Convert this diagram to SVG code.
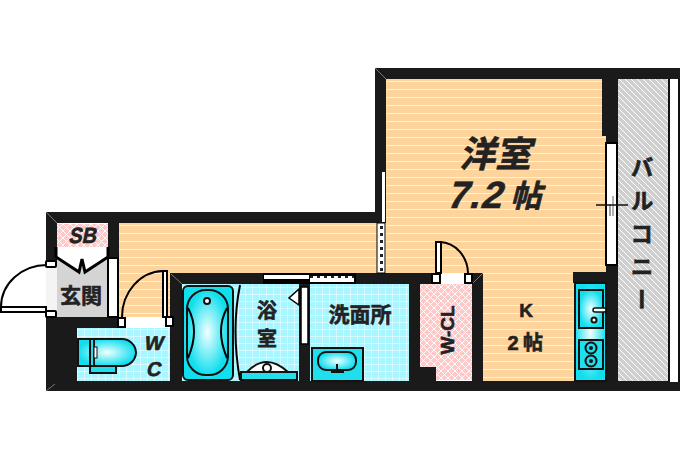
<svg xmlns="http://www.w3.org/2000/svg" width="680" height="460" viewBox="0 0 680 460">
<style>
.wall{fill:#1a1a1a}
.ln{fill:none;stroke:#000;stroke-width:2}
.lbl{fill:#222;stroke:#222;stroke-width:.6;font-family:"Noto Sans CJK JP","Liberation Sans",sans-serif;font-weight:700;text-anchor:middle}
.lat{fill:#222;stroke:#222;stroke-width:.6;font-family:"Liberation Sans","Noto Sans CJK JP",sans-serif;font-weight:700;text-anchor:middle}
.door{fill:#fff;stroke:#000;stroke-width:2}
.fx{stroke:#111;stroke-width:2}
</style>
<defs>
<pattern id="floor" width="8" height="8" patternUnits="userSpaceOnUse" y="1"><rect width="8" height="8" fill="#fdd49c"/><rect y="0" width="8" height="1" fill="#fff2dd"/></pattern>
<pattern id="tile" width="7" height="7" patternUnits="userSpaceOnUse"><rect width="7" height="7" fill="#a8f6ff"/><path d="M0 0H7M0 0V7" stroke="#fff" stroke-width="1"/></pattern>
<pattern id="pink" width="7" height="7" patternUnits="userSpaceOnUse"><rect width="7" height="7" fill="#fdc9c9"/><path d="M0 0L7 7M7 0L0 7" stroke="#fff" stroke-width="1"/></pattern>
<pattern id="hatch" width="6" height="6" patternUnits="userSpaceOnUse"><rect width="6" height="6" fill="#cfcfcf"/><path d="M-1 -1L7 7M-1 5L1 7M5 -1L7 1" stroke="#fff" stroke-width="1"/></pattern>
<pattern id="dots" width="7" height="7" patternUnits="userSpaceOnUse"><rect width="7" height="7" fill="#fff"/><rect x="2" y="2" width="3" height="3" fill="#222"/></pattern>
<radialGradient id="cy"><stop offset="0" stop-color="#f2ffff"/><stop offset="1" stop-color="#12dfee"/></radialGradient>
</defs>

<g id="floors">
<rect x="386" y="79" width="220" height="204" fill="url(#floor)"/>
<rect x="483" y="270" width="95" height="113" fill="url(#floor)"/>
<rect x="119" y="223" width="260" height="52" fill="url(#floor)"/>
<rect x="118" y="258" width="52" height="60" fill="url(#floor)"/>
<rect x="618" y="79" width="50" height="303" fill="url(#hatch)"/>
<rect x="77" y="328" width="93" height="53" fill="url(#tile)"/>
<rect x="182" y="284" width="117" height="97" fill="url(#tile)"/>
<rect x="310" y="284" width="99" height="97" fill="url(#tile)"/>
<rect x="420" y="284" width="52" height="96" fill="url(#pink)"/>
<rect x="57" y="224" width="51" height="23" fill="url(#pink)"/>
<rect x="57" y="247" width="51" height="70" fill="#d4d4d4"/>
</g>

<g id="walls">
<rect class="wall" x="375" y="68" width="305" height="11"/>
<rect class="wall" x="375" y="68" width="11" height="155"/>
<rect class="wall" x="46" y="212" width="340" height="11"/>
<rect class="wall" x="46" y="212" width="11" height="179"/>
<rect class="wall" x="46" y="381" width="634" height="10"/>
<rect class="wall" x="46" y="317" width="74" height="11"/>
<rect class="wall" x="46" y="328" width="31" height="60"/>
<rect class="wall" x="170" y="273" width="313" height="11"/>
<rect class="wall" x="170" y="273" width="12" height="110"/>
<rect class="wall" x="299" y="273" width="11" height="110"/>
<rect class="wall" x="409" y="273" width="11" height="110"/>
<rect class="wall" x="472" y="273" width="11" height="110"/>
<rect class="wall" x="420" y="367" width="16" height="14"/>
<rect class="wall" x="108" y="223" width="11" height="36"/>
<rect class="wall" x="602" y="79" width="16" height="57"/>
<rect class="wall" x="606" y="79" width="12" height="303"/>
<rect class="wall" x="573" y="272" width="33" height="11"/>
<rect x="668" y="79" width="2" height="303" fill="#111"/>
<rect x="670" y="79" width="8" height="303" fill="#fff"/>
<rect x="678" y="79" width="2" height="303" fill="#111"/>
<path d="M375 68L386 79M46 212L57 223M46 391L55 384M171 274L182 284M483 273L472 284" stroke="#777" stroke-width="1" fill="none"/>
</g>

<g id="openings">
<rect x="46" y="263" width="11" height="49" fill="#f4f4f4"/>
<rect x="108" y="258" width="10" height="59" class="door"/>
<rect x="120" y="317" width="48" height="11" fill="#fff"/>
<rect x="441" y="273" width="25" height="11" fill="#fff"/>
<path d="M56 247H109V257L85 272L82 259L79 272L56 257Z" fill="#fff"/>
<path class="ln" d="M56 247V257L79 272L82 259L85 272L108 257V247" style="stroke-width:3"/>
<rect class="door" x="1" y="307" width="45" height="5"/>
<path class="ln" d="M1 307A46 42 0 0 1 47 265"/>
<rect class="door" x="46" y="261" width="10" height="6" rx="1"/>
<rect class="door" x="46" y="311" width="10" height="6" rx="1"/>
<rect class="door" x="163" y="271" width="4" height="46"/>
<path class="ln" d="M122 317A42 46 0 0 1 163 271"/>
<rect class="door" x="118" y="318" width="7" height="9"/>
<rect class="door" x="166" y="317" width="7" height="9"/>
<rect x="263" y="273" width="93" height="11" fill="#000"/>
<rect x="264" y="275" width="45" height="4" fill="#fff"/>
<rect x="310" y="276" width="44" height="6" fill="url(#dots)"/>
<rect x="301" y="287" width="7" height="57" class="door" style="stroke-width:1.5"/>
<path d="M299 289L289 298L299 305Z" fill="#fff" stroke="#000" stroke-width="1.5"/>
<rect x="382" y="172" width="3" height="50" fill="#fff"/>
<rect x="377" y="223" width="8" height="50" fill="url(#dots)" stroke="#000"/>
<rect class="door" x="436" y="242" width="5" height="31"/>
<path class="ln" d="M440 242A29 32 0 0 1 468 273"/>
<rect class="door" x="432" y="274" width="8" height="9"/>
<rect class="door" x="465" y="274" width="7" height="9"/>
<rect x="606" y="143" width="11" height="122" fill="#fff" stroke="#000" stroke-width="2"/>
<path d="M613 196V216" stroke="#999" stroke-width="1.5"/>
<path d="M610 204V216" stroke="#444" stroke-width="1"/>
<path d="M596 205H628" stroke="#111" stroke-width="1.5"/>
</g>

<g id="bath">
<rect x="183" y="286" width="50" height="94" rx="5" fill="url(#cy)" class="fx"/>
<rect x="187" y="290" width="41" height="85" rx="19" fill="url(#cy)" class="fx"/>
<path class="ln" d="M188 308Q200 330 188 358M227 308Q215 330 227 358"/>
<circle cx="207" cy="301" r="3" fill="#fff" stroke="#111" stroke-width="2"/>
<path class="ln" d="M240 285Q231 330 240 380"/>
<path d="M247 372Q266 352 288 372Z" fill="#fff" stroke="#111" stroke-width="2"/>
<circle cx="267" cy="368" r="4" fill="#fff" stroke="#111" stroke-width="2"/>
<rect x="241" y="372" width="56" height="8" fill="#27dde9" class="fx"/>
</g>

<g id="sink">
<rect x="312" y="348" width="51" height="33" fill="#1fdfec" stroke="#111" stroke-width="2"/>
<rect x="318" y="352" width="38" height="18" rx="8" fill="url(#cy)" class="fx"/>
<path class="fx" fill="none" d="M337 364V372M331 372H344"/>
</g>

<g id="toilet">
<rect x="90" y="366" width="26" height="7" fill="#1fdfec" class="fx"/>
<path d="M78 339H122A14 14 0 0 1 136 353A14 14 0 0 1 122 366H78Z" fill="url(#cy)" class="fx"/>
<rect x="90" y="339" width="4" height="27" fill="#1fdfec" class="fx"/>
<rect x="94" y="347" width="3" height="11" fill="#fff" stroke="#111"/>
</g>

<g id="kitchen">
<rect x="575" y="283" width="31" height="98" fill="url(#cy)" class="fx"/>
<rect x="579" y="290" width="24" height="38" fill="url(#cy)" class="fx"/>
<rect x="593" y="308" width="13" height="4" rx="2" fill="#fff" stroke="#111" stroke-width="1.5"/>
<circle cx="594" cy="320" r="2.5" fill="#fff" stroke="#111" stroke-width="2"/>
<rect x="579" y="340" width="24" height="29" fill="#1fdfec" class="fx"/>
<circle cx="591" cy="348" r="5.5" fill="none" stroke="#111" stroke-width="2"/>
<circle cx="591" cy="361" r="5.5" fill="none" stroke="#111" stroke-width="2"/>
<circle cx="591" cy="348" r="2" fill="#111"/>
<circle cx="591" cy="361" r="2" fill="#111"/>
</g>

<g id="labels">
<text class="lbl" font-size="36" transform="translate(495,167) skewX(-14)">洋室</text>
<text class="lat" font-size="38" transform="translate(474,208) skewX(-16)" letter-spacing="1">7.2</text>
<text class="lbl" font-size="31" transform="translate(526,207) skewX(-14)">帖</text>
<text class="lat" font-size="22" transform="translate(82,243) skewX(-12) scale(.9,1)">SB</text>
<text class="lbl" font-size="21" x="81" y="303">玄関</text>
<text class="lat" font-size="20" transform="translate(153,350) skewX(-12)">W</text>
<text class="lat" font-size="20" transform="translate(153,376) skewX(-12)">C</text>
<text class="lbl" font-size="20" x="267" y="318">浴</text>
<text class="lbl" font-size="20" x="267" y="346">室</text>
<text class="lbl" font-size="21" x="360" y="322">洗面所</text>
<text class="lat" font-size="19" transform="translate(454,330) rotate(-90)">W-CL</text>
<text class="lat" font-size="19" x="526" y="317">K</text>
<text class="lat" font-size="20" x="513" y="350">2</text>
<text class="lbl" font-size="20" x="533" y="350">帖</text>
<text class="lbl" font-size="23" style="writing-mode:vertical-rl;letter-spacing:10px;text-anchor:start" x="642" y="156">バルコニー</text>
</g>
</svg>
